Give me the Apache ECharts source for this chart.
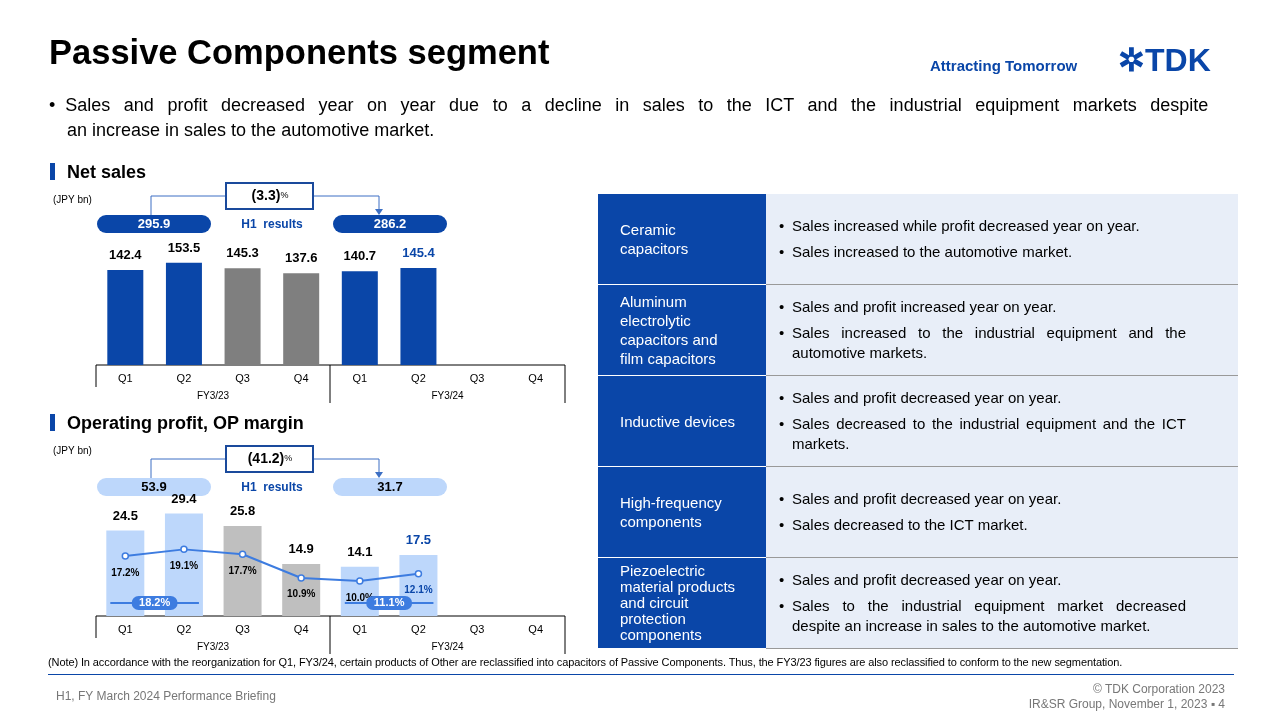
<!DOCTYPE html>
<html><head><meta charset="utf-8">
<script src="https://cdn.jsdelivr.net/npm/echarts@6/dist/echarts.min.js"></script>
<style>
body{margin:0;width:1281px;height:720px;position:relative;font-family:Arial,"Liberation Sans",sans-serif;background:#fff;overflow:hidden}
#c{position:absolute;left:0;top:0;width:1281px;height:720px}
.a{position:absolute;white-space:nowrap}
table{position:absolute;left:598px;top:194px;width:640px;border-collapse:collapse;font-size:15px}
td{height:90px;padding:0;vertical-align:middle}
td.l{width:168px;background:#0a46a8;color:#fff;padding-left:22px;box-sizing:border-box;line-height:19px;border-bottom:1px solid #fff}
td.r{background:#e8eef8;padding-left:26px;padding-right:52px;border-bottom:1px solid #999;color:#000;line-height:20px;text-align:justify}
td.r div{position:relative;margin:6px 0}
td.r div::before{content:"•";position:absolute;left:-13px}
</style></head><body>
<div id="c"></div>
<div class="a" style="left:49px;top:33px;font-size:34.5px;font-weight:bold">Passive Components segment</div>
<div class="a" style="left:930px;top:57px;font-size:15px;font-weight:bold;color:#0a46a8">Attracting Tomorrow</div>
<div class="a" style="left:1118px;top:41px;font-size:32px;font-weight:bold;color:#0a46a8">✲TDK</div>
<div class="a" style="left:49px;top:93px;font-size:18px;line-height:25px">•&nbsp;&nbsp;<span style="display:inline-block;width:1143px;text-align:justify;text-align-last:justify">Sales and profit decreased year on year due to a decline in sales to the ICT and the industrial equipment markets despite</span><br><span style="padding-left:18px">an increase in sales to the automotive market.</span></div>
<div class="a" style="left:50px;top:162px;font-size:18px;font-weight:bold"><span style="display:inline-block;width:5px;height:17px;background:#0a46a8;vertical-align:-2px;margin-right:12px"></span>Net sales</div>
<div class="a" style="left:50px;top:413px;font-size:18px;font-weight:bold"><span style="display:inline-block;width:5px;height:17px;background:#0a46a8;vertical-align:-2px;margin-right:12px"></span>Operating profit, OP margin</div>
<div class="a" style="left:48px;top:656px;font-size:11px;letter-spacing:-0.1px">(Note) In accordance with the reorganization for Q1, FY3/24, certain products of Other are reclassified into capacitors of Passive Components. Thus, the FY3/23 figures are also reclassified to conform to the new segmentation.</div>
<div class="a" style="left:48px;top:674px;width:1186px;border-top:1px solid #0a46a8"></div>
<div class="a" style="left:56px;top:689px;font-size:12px;color:#777">H1, FY March 2024 Performance Briefing</div>
<div class="a" style="left:1000px;top:682px;width:225px;text-align:right;font-size:12px;color:#777;line-height:15px">© TDK Corporation 2023<br>IR&amp;SR Group, November 1, 2023 ▪ 4</div>
<table>
<tr><td class="l">Ceramic<br>capacitors</td><td class="r"><div>Sales increased while profit decreased year on year.</div><div>Sales increased to the automotive market.</div></td></tr>
<tr><td class="l">Aluminum<br>electrolytic<br>capacitors and<br>film capacitors</td><td class="r"><div>Sales and profit increased year on year.</div><div>Sales increased to the industrial equipment and the automotive markets.</div></td></tr>
<tr><td class="l">Inductive devices</td><td class="r"><div>Sales and profit decreased year on year.</div><div>Sales decreased to the industrial equipment and the ICT markets.</div></td></tr>
<tr><td class="l">High-frequency<br>components</td><td class="r"><div>Sales and profit decreased year on year.</div><div>Sales decreased to the ICT market.</div></td></tr>
<tr><td class="l" style="line-height:16px">Piezoelectric<br>material products<br>and circuit<br>protection<br>components</td><td class="r"><div>Sales and profit decreased year on year.</div><div>Sales to the industrial equipment market decreased despite an increase in sales to the automotive market.</div></td></tr>
</table>
<script>
const quarters=['Q1','Q2','Q3','Q4','Q1','Q2','Q3','Q4'];
const years=['FY3/23','FY3/24'];
const sales=[142.4,153.5,145.3,137.6,140.7,145.4,null,null];
const salesH1=['295.9','286.2'];const salesChange='(3.3)';
const op=[24.5,29.4,25.8,14.9,14.1,17.5,null,null];
const margin=[17.2,19.1,17.7,10.9,10.0,12.1,null,null];
const marginH1=['18.2%','11.1%'];
const opH1=['53.9','31.7'];const opChange='(41.2)';

const B='#0a46a8',G='#7f7f7f',LB='#bdd7fb',LG='#bfbfbf',LN='#3d7ce0';
const ch=echarts.init(document.getElementById('c'));
const cat=i=>({type:'category',gridIndex:i,data:quarters,axisLine:{show:false},axisTick:{show:false},axisLabel:{fontSize:11,color:'#000',margin:8}});
function colors(arr,c1,c2){return arr.map((v,i)=>({value:v,itemStyle:{color:(i==2||i==3)?c2:c1},label:i==5?{color:B}:undefined}));}
ch.setOption({animation:false,
grid:[{left:96,width:469,top:215,height:150},{left:96,width:469,top:466,height:150}],
xAxis:[cat(0),cat(1)],
yAxis:[{gridIndex:0,max:225,min:0,show:false},{gridIndex:1,max:43,min:0,show:false}],
series:[
{type:'bar',xAxisIndex:0,yAxisIndex:0,barWidth:36,data:colors(sales,B,G),label:{show:true,position:'top',fontSize:13,fontWeight:'bold',color:'#000',distance:8,formatter:p=>p.value.toFixed(1)}},
{type:'bar',xAxisIndex:1,yAxisIndex:1,barWidth:38,data:colors(op,LB,LG),label:{show:true,position:'top',fontSize:13,fontWeight:'bold',color:'#000',distance:8,formatter:p=>p.value.toFixed(1)}},
{type:'line',xAxisIndex:1,yAxisIndex:1,data:margin.map((v,i)=>i==5?{value:v,label:{color:B}}:v),symbol:'circle',symbolSize:6,itemStyle:{color:'#fff',borderColor:LN,borderWidth:1.5},lineStyle:{color:LN,width:2},
 label:{show:true,position:'bottom',distance:8,fontSize:10,fontWeight:'bold',color:'#000',formatter:p=>p.value.toFixed(1)+'%'}}
]});
const px=(g,i,v)=>ch.convertToPixel({xAxisIndex:g,yAxisIndex:g},[i,v]);
const gr=[];
function frame(base){
 const L=96,R=565,M=330;
 gr.push({type:'line',shape:{x1:L,y1:base,x2:R,y2:base},style:{stroke:'#000',lineWidth:1}});
 gr.push({type:'line',shape:{x1:L,y1:base,x2:L,y2:base+22},style:{stroke:'#000',lineWidth:1}});
 gr.push({type:'line',shape:{x1:M,y1:base,x2:M,y2:base+38},style:{stroke:'#000',lineWidth:1}});
 gr.push({type:'line',shape:{x1:R,y1:base,x2:R,y2:base+38},style:{stroke:'#000',lineWidth:1}});
 gr.push({type:'text',x:(L+M)/2,y:base+31,style:{text:years[0],fontSize:10,fill:'#000',align:'center',verticalAlign:'middle'}});
 gr.push({type:'text',x:(M+R)/2,y:base+31,style:{text:years[1],fontSize:10,fill:'#000',align:'center',verticalAlign:'middle'}});
 gr.push({type:'text',x:53,y:base-165,style:{text:'(JPY bn)',fontSize:10,fill:'#000',verticalAlign:'middle'}});
}
function header(top,vals,chg,fillC,txtC){
 gr.push({type:'rect',shape:{x:97,y:top-9,width:114,height:18,r:9},style:{fill:fillC}});
 gr.push({type:'rect',shape:{x:333,y:top-9,width:114,height:18,r:9},style:{fill:fillC}});
 gr.push({type:'text',x:154,y:top,style:{text:vals[0],fontSize:13,fontWeight:'bold',fill:txtC,align:'center',verticalAlign:'middle'}});
 gr.push({type:'text',x:390,y:top,style:{text:vals[1],fontSize:13,fontWeight:'bold',fill:txtC,align:'center',verticalAlign:'middle'}});
 gr.push({type:'text',x:272,y:top+1,style:{text:'H1  results',fontSize:12,fontWeight:'bold',fill:B,align:'center',verticalAlign:'middle'}});
 gr.push({type:'polyline',shape:{points:[[151,top-9],[151,top-28],[226,top-28]]},style:{stroke:'#3c6fc4',fill:null,lineWidth:1}});
 gr.push({type:'polyline',shape:{points:[[313,top-28],[379,top-28],[379,top-14]]},style:{stroke:'#3c6fc4',fill:null,lineWidth:1}});
 gr.push({type:'polygon',shape:{points:[[375,top-15],[383,top-15],[379,top-9]]},style:{fill:'#3c6fc4'}});
 gr.push({type:'rect',shape:{x:226,y:top-41,width:87,height:26},style:{fill:'#fff',stroke:'#1a4a9c',lineWidth:2}});
 gr.push({type:'text',x:270,y:top-28,style:{text:'{a|'+chg+'}{b|%}',align:'center',verticalAlign:'middle',rich:{a:{fontSize:14,fontWeight:'bold',fill:'#000'},b:{fontSize:9,fill:'#000'}}}});
}
frame(365);frame(616);
header(224,salesH1,salesChange,B,'#fff');
header(487,opH1,opChange,LB,'#000');
[[0,1,0],[4,5,1]].forEach(([a,b,k])=>{
 const p1=px(1,a,0),p2=px(1,b,0);const y=603;
 gr.push({type:'line',z:100,shape:{x1:p1[0]-15,y1:y,x2:p2[0]+15,y2:y},style:{stroke:LN,lineWidth:2}});
 const cx=(p1[0]+p2[0])/2;
 gr.push({type:'rect',z:101,shape:{x:cx-23,y:y-7,width:46,height:14,r:7},style:{fill:LN}});
 gr.push({type:'text',z:102,x:cx,y:y,style:{text:marginH1[k],fontSize:11,fontWeight:'bold',fill:'#fff',align:'center',verticalAlign:'middle'}});
});
ch.setOption({graphic:gr});
</script></body></html>
